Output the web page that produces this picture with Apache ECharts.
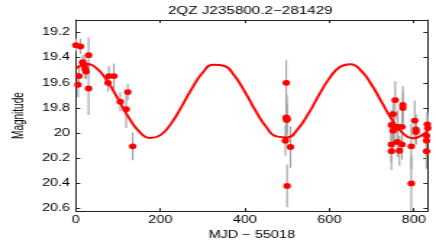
<!DOCTYPE html>
<html>
<head>
<meta charset="utf-8">
<script src="https://cdn.jsdelivr.net/npm/echarts@6/dist/echarts.min.js"></script>
<style>
html,body{margin:0;padding:0;overflow:hidden;background:#fff;width:436px;height:245px;}
#c{width:301px;height:245px;transform:scaleX(1.4485);transform-origin:0 0;}
</style>
</head>
<body>
<div id="c"></div>
<script>
// Observations: MJD-55018, magnitude, error
const obsT = [0, 11, 5, 7.5, 16, 20, 22, 24, 30, 30, 76, 78, 90, 105, 119, 123, 134.5,
  498, 498, 499, 500, 496, 508, 500,
  747, 751, 756, 751, 747, 747, 754, 762, 761, 766, 772, 774, 774, 772, 794, 794, 802, 805, 805, 832, 833, 830, 830, 830];
const obsMag = [19.30, 19.31, 19.615, 19.546, 19.436, 19.46, 19.49, 19.51, 19.38, 19.645, 19.60, 19.546, 19.546, 19.75, 19.81, 19.673, 20.105,
  19.60, 19.875, 19.895, 19.885, 20.06, 20.11, 20.42,
  19.935, 19.848, 19.737, 19.98, 20.09, 20.143, 19.965, 19.95, 20.07, 20.14, 19.95, 19.775, 19.80, 20.09, 20.105, 20.40, 19.90, 19.97, 19.99, 19.93, 19.96, 20.02, 20.06, 20.143];
const obsErr = [0.05, 0.06, 0.1, 0.08, 0.06, 0.07, 0.08, 0.06, 0.14, 0.21, 0.07, 0.08, 0.1, 0.075, 0.15, 0.065, 0.11,
  0.18, 0.15, 0.2, 0.12, 0.12, 0.165, 0.17,
  0.12, 0.13, 0.15, 0.15, 0.14, 0.15, 0.12, 0.13, 0.12, 0.12, 0.14, 0.15, 0.13, 0.12, 0.18, 0.22, 0.16, 0.12, 0.1, 0.1, 0.1, 0.1, 0.12, 0.14];

// Fitted curve
const fitT = [0, 25, 50, 75, 100, 125, 150, 175, 200, 225, 250, 275, 300, 325, 350, 375, 400, 425, 450, 475, 500,
  525, 550, 575, 600, 625, 650, 675, 700, 725, 750, 775, 800, 825, 833];
const fitMag = [19.487, 19.450, 19.487, 19.589, 19.730, 19.875, 19.988, 20.038, 20.016, 19.926, 19.790, 19.643, 19.520, 19.456, 19.464, 19.542, 19.671, 19.819, 19.948, 20.026, 20.034,
  19.969, 19.847, 19.700, 19.564, 19.474, 19.452, 19.503, 19.615, 19.760, 19.901, 20.003, 20.040, 20.003, 19.978];

const xTicks = [0, 200, 400, 600, 800];
const yTicks = [19.2, 19.4, 19.6, 19.8, 20.0, 20.2, 20.4, 20.6];

const titleText = '2QZ J235800.2\u2212281429';
const xName = 'MJD \u2212 55018';
const yName = 'Magnitude';

const FONT = 'Liberation Sans, Arial, Helvetica, sans-serif';
const obsData = obsT.map((t, i) => [t, obsMag[i], obsErr[i]]);
const fitData = fitT.map((t, i) => [t, fitMag[i]]);

const chart = echarts.init(document.getElementById('c'));
const axisLine = {show: true, onZero: false, lineStyle: {color: '#222', width: 1}};
chart.setOption({
  animation: false,
  backgroundColor: '#fff',
  textStyle: {fontFamily: FONT},
  title: {
    text: titleText, left: 167.8, top: 1, textAlign: 'center',
    textStyle: {fontSize: 10.5, fontWeight: 'normal', color: '#000', fontFamily: FONT}
  },
  grid: {left: 38.66, right: 5.7, top: 20, bottom: 26, containLabel: false},
  xAxis: [{
    type: 'value', min: 0, max: 833, position: 'bottom',
    name: xName, nameLocation: 'middle', nameGap: 13,
    nameTextStyle: {fontSize: 10, color: '#000', fontFamily: FONT},
    axisLine: axisLine,
    axisTick: {show: true, inside: true, length: 3, customValues: xTicks, lineStyle: {color: '#222'}},
    axisLabel: {show: true, customValues: xTicks, margin: 4, fontSize: 10, color: '#000', fontFamily: FONT},
    splitLine: {show: false}
  }, {
    type: 'value', min: 0, max: 833, position: 'top',
    axisLine: axisLine,
    axisTick: {show: true, inside: true, length: 3, customValues: xTicks, lineStyle: {color: '#222'}},
    axisLabel: {show: false},
    splitLine: {show: false}
  }],
  yAxis: [{
    type: 'value', min: 19.1, max: 20.62, inverse: true, position: 'left',
    name: yName, nameLocation: 'middle', nameGap: 28, nameRotate: 90,
    nameTextStyle: {fontSize: 10, color: '#000', fontFamily: FONT},
    axisLine: axisLine,
    axisTick: {show: true, inside: true, length: 3, customValues: yTicks, lineStyle: {color: '#222'}},
    axisLabel: {show: true, customValues: yTicks, margin: 4, fontSize: 10, color: '#000', fontFamily: FONT,
      formatter: v => String(parseFloat(Number(v).toFixed(1)))},
    splitLine: {show: false}
  }, {
    type: 'value', min: 19.1, max: 20.62, inverse: true, position: 'right',
    axisLine: axisLine,
    axisTick: {show: true, inside: true, length: 3, customValues: yTicks, lineStyle: {color: '#222'}},
    axisLabel: {show: false},
    splitLine: {show: false}
  }],
  series: [{
    type: 'custom', xAxisIndex: 0, yAxisIndex: 0, clip: true, z: 1,
    data: obsData,
    renderItem: function (params, api) {
      const x = api.value(0), m = api.value(1), e = api.value(2);
      const p1 = api.coord([x, m - e]);
      const p2 = api.coord([x, m + e]);
      return {type: 'line', shape: {x1: p1[0], y1: p1[1], x2: p2[0], y2: p2[1]},
        style: {stroke: '#a0a0a0', lineWidth: 1.1}};
    }
  }, {
    type: 'line', xAxisIndex: 0, yAxisIndex: 0, data: fitData, smooth: true, symbol: 'none',
    lineStyle: {color: '#ff0000', width: 1.9}, z: 2
  }, {
    type: 'scatter', xAxisIndex: 0, yAxisIndex: 0, data: obsData.map(d => [d[0], d[1]]),
    symbol: 'circle', symbolSize: [5.2, 5.8],
    itemStyle: {color: '#ff0000', opacity: 1}, z: 3
  }]
});
</script>
</body>
</html>
